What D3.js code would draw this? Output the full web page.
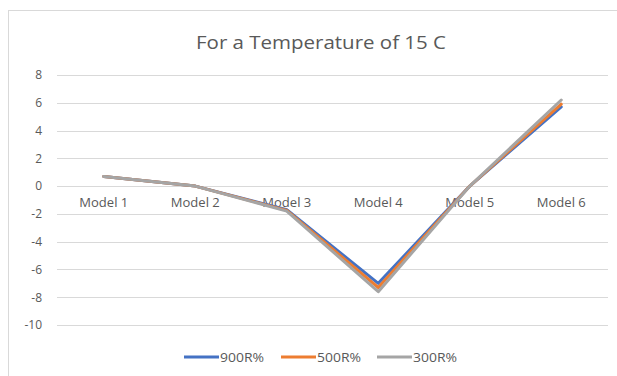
<!DOCTYPE html>
<html><head><meta charset="utf-8">
<script src="https://cdn.jsdelivr.net/npm/d3@7"></script>
<style>body{margin:0;background:#fff;}svg{display:block;}</style>
</head><body>
<script>
const categories = ["Model 1","Model 2","Model 3","Model 4","Model 5","Model 6"];
const s900 = [0.7, 0.0, -1.7, -7.0, 0.0, 5.7];
const s500 = [0.7, 0.0, -1.75, -7.3, 0.0, 5.9];
const s300 = [0.7, 0.0, -1.8, -7.6, 0.0, 6.2];
const seriesNames = ["900R%","500R%","300R%"];
const colors = ["#4472C4","#ED7D31","#A5A5A5"];
const yTicks = [8,6,4,2,0,-2,-4,-6,-8,-10];

const W=617,H=376;
const svg=d3.select("body").append("svg").attr("width",W).attr("height",H);
svg.append("rect").attr("x",8.5).attr("y",10.5).attr("width",W).attr("height",H).attr("fill","#fff").attr("stroke","#d9d9d9");
svg.append("text").attr("x",321).attr("y",49).attr("text-anchor","middle")
  .attr("font-family","Open Sans, sans-serif").attr("font-size",19).attr("fill","#595959")
  .attr("textLength",250).attr("lengthAdjust","spacingAndGlyphs").text("For a Temperature of 15 C");

const x=d3.scaleBand().domain(categories).range([58,607]);
const y=d3.scaleLinear().domain([-10,8]).range([325,75]);
const font="Open Sans, sans-serif";
const g=svg.append("g");
g.selectAll("line.grid").data(yTicks).join("line").attr("class","grid")
  .attr("x1",57).attr("x2",608).attr("y1",d=>Math.round(y(d))+0.5).attr("y2",d=>Math.round(y(d))+0.5)
  .attr("stroke","#d9d9d9").attr("stroke-width",1);
const ya=d3.axisLeft(y).tickValues(yTicks).tickFormat(d=>String(d)).tickSize(0).tickPadding(15);
const yg=svg.append("g").attr("transform","translate(57,0)").call(ya);
yg.select(".domain").remove();
yg.selectAll("text").attr("font-family",font).attr("font-size",12).attr("fill","#595959");
const xa=d3.axisBottom(x).tickSize(0).tickPadding(12);
const xg=svg.append("g").attr("transform",`translate(0,${y(0)})`).call(xa);
xg.select(".domain").remove();
xg.selectAll("text").attr("font-family",font).attr("font-size",12.5).attr("fill","#595959")
  .attr("textLength",49).attr("lengthAdjust","spacingAndGlyphs");

const line=d3.line().x((d,i)=>x(categories[i])+x.bandwidth()/2).y(d=>y(d));
[s900,s500,s300].forEach((s,k)=>{
  svg.append("path").datum(s).attr("d",line).attr("fill","none").attr("stroke",colors[k])
    .attr("stroke-width",3).attr("stroke-linejoin","round").attr("stroke-linecap","round");
});
const lx=[184,281,377];
seriesNames.forEach((n,k)=>{
  svg.append("line").attr("x1",lx[k]).attr("x2",lx[k]+35).attr("y1",357).attr("y2",357).attr("stroke",colors[k]).attr("stroke-width",3);
  svg.append("text").attr("x",lx[k]+36).attr("y",361.5).attr("font-family",font).attr("font-size",12).attr("fill","#595959")
    .attr("textLength",44).attr("lengthAdjust","spacingAndGlyphs").text(n);
});
</script>
</body></html>
